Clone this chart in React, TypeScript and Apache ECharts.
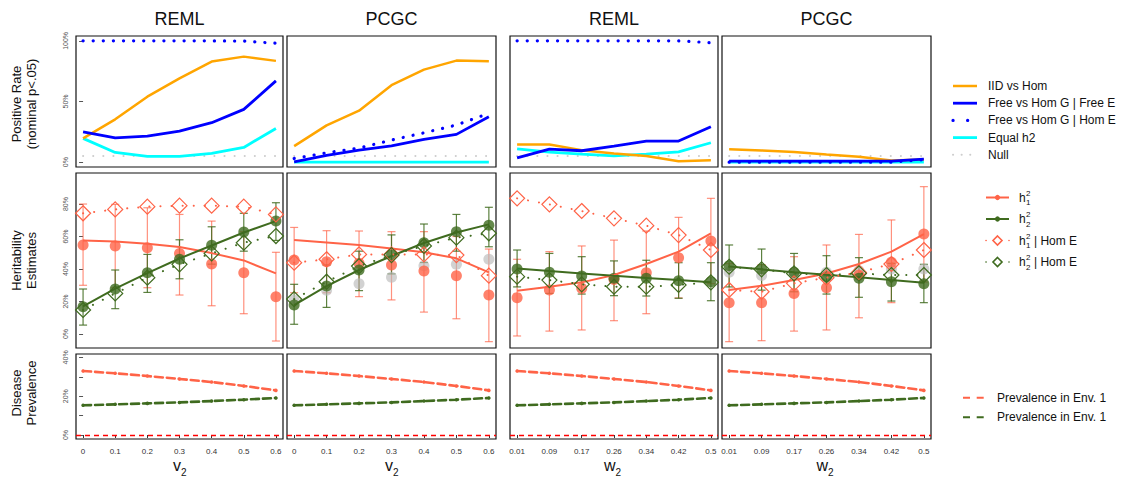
import React, { useEffect, useRef } from "react";
import * as echarts from "echarts";

// ---------- data ----------
const xIndex = [0, 1, 2, 3, 4, 5, 6];
const vLabels = ["0", "0.1", "0.2", "0.3", "0.4", "0.5", "0.6"];
const wLabels = ["0.01", "0.09", "0.17", "0.26", "0.34", "0.42", "0.5"];
const methods = ["REML", "PCGC", "REML", "PCGC"];
const axisVars = ["v", "v", "w", "w"];

// Positive rate (%) per panel [REML v2, PCGC v2, REML w2, PCGC w2]
const iidVsHom = [
  [19.6, 35.3, 54, 69, 82.9, 87, 83.5],
  [13.2, 30.3, 42.4, 63.4, 76.3, 83.7, 83.2],
  [14.6, 14.6, 9.9, 7.2, 5, 0.8, 1.6],
  [10.7, 9.6, 8.3, 6.3, 4.4, 1.4, 2.2],
];
const freeVsHomFreeE = [
  [25, 20, 21.5, 25.6, 32.5, 43.5, 67],
  [0.3, 5.5, 9.9, 13.5, 18.7, 22.9, 37.5],
  [3.6, 10.7, 9.4, 13.2, 17.4, 17.4, 29.2],
  [0.8, 0.8, 0.8, 0.8, 0.8, 0.8, 2.5],
];
const freeVsHomHomE = [
  [100, 100, 100, 100, 100, 99.8, 98],
  [3, 7.7, 11.6, 18.2, 24.2, 30.6, 40.2],
  [100, 100, 100, 100, 100, 100, 98.5],
  [0, 0, 0, 0, 0, 0, 2],
];
const equalH2 = [
  [19.6, 8, 4.7, 4.7, 7.2, 12.1, 27.8],
  [0, 0, 0, 0, 0, 0, 0],
  [11, 8.3, 6.6, 5.2, 6.6, 8.5, 16],
  [0, 0, 0, 0, 0, 0, 0],
];
const nullRate = [5, 5, 5, 5, 5, 5, 5];

// Heritability estimates (%)
const h1Est = [
  [54.8, 54.2, 53.1, 49.6, 43.1, 37.7, 23],
  [45.5, 44.5, 43.5, 42.5, 38.8, 35.9, 24],
  [22.4, 27.1, 28.1, 33.6, 37.7, 47, 57.2],
  [19.3, 19.3, 25, 28.5, 36.3, 44.1, 61.5],
];
const h1Low = [
  [30, 28.6, 28.5, 24, 17.4, 12.5, -4.3],
  [25.4, 25.4, 23, 21, 13.5, 9.4, -4.7],
  [-1.2, 1.8, 2.5, 8.2, 12.5, 22.2, 31],
  [-4.7, -4.1, 1.8, 2.5, 10, 19.3, 32],
];
const h1High = [
  [80, 79.8, 77.7, 73.6, 69.5, 63, 50.3],
  [65.6, 63.6, 63.4, 63, 63, 60, 52.3],
  [46, 50.7, 54.2, 57.8, 63.4, 71.8, 83.5],
  [43.3, 42.7, 47.6, 54.8, 61.3, 70.2, 90.7],
];
const h1True = [
  [57.6, 57, 55.6, 53.5, 49.8, 45.3, 37.3],
  [57.8, 56.4, 54.8, 52.7, 50.3, 46.6, 37.9],
  [26.7, 29.1, 31.8, 36.3, 43.1, 50.7, 62],
  [27.1, 29.7, 33.2, 37.3, 43.1, 50.7, 61.5],
];
const h2Est = [
  [16.8, 27.7, 37.7, 46, 54.6, 62.8, 69.5],
  [17.8, 29.5, 39.4, 48.6, 56.2, 63, 67],
  [40, 38, 35.7, 34.3, 34.3, 32.8, 32.2],
  [42, 40, 38, 35.3, 34.3, 32.2, 31],
];
const h2Low = [
  [5.5, 15.6, 25.6, 34, 43, 51, 57.6],
  [6, 16.4, 26.7, 37, 44, 51, 53.7],
  [29, 25, 24.6, 23.6, 23.4, 22, 20.5],
  [29, 27, 26, 24.6, 22.6, 20.3, 19.3],
];
const h2High = [
  [27.7, 39.4, 49, 58, 66, 74.3, 80.8],
  [30.6, 42.5, 51, 61, 67.7, 73.6, 78],
  [51.7, 49.6, 47.6, 45, 45.4, 43.9, 43.9],
  [54.8, 52.3, 49.6, 48.2, 47, 43.5, 42.9],
];
const h2True = [
  [17, 28, 37.5, 46.5, 54.5, 62.5, 69.5],
  [17.8, 29.5, 39.4, 48, 56, 62.5, 67.5],
  [40.4, 38.8, 37.3, 35.8, 34.5, 33.2, 31.8],
  [41.5, 39.8, 38, 36.5, 35, 33.2, 31.5],
];
const h1HomE = [
  [74.3, 76.7, 78.4, 79, 79, 78.4, 73.6],
  [43.9, 46, 49, 49, 49, 48.6, 35.9],
  [83.5, 79.8, 75.7, 71.2, 66.7, 60.9, 51.7],
  [27.1, 26, 31.2, 34.7, 37.9, 43.1, 51.7],
];
const h2HomE = [
  [14.8, 25, 34.7, 42.9, 49.6, 56.2, 60.3],
  [21.5, 32.2, 41.8, 48.6, 54.2, 59.3, 62],
  [35.3, 33.2, 30.6, 29.1, 29.1, 30.2, 31.8],
  [41.4, 39.8, 37.3, 36.3, 37.3, 36.3, 36.3],
];
const grayEst = [
  null,
  [21, 27, 31, 35, 42, 43, 46],
  null,
  [38, 36, 37, 38, 39, 40, 40],
];

// Disease prevalence (%)
const prevEnv1 = [33, 31.8, 30.4, 28.9, 27.3, 25.3, 23];
const prevEnv2 = [15.3, 15.8, 16.3, 16.8, 17.5, 18.2, 19.1];

const rateLegend = ["IID vs Hom", "Free vs Hom G | Free E", "Free vs Hom G | Hom E", "Equal h2", "Null"];
const rowTitles = [["Positive Rate", "(nominal p<.05)"], ["Heritability", "Estimates"], ["Disease", "Prevalence"]];

// ---------- styling / layout ----------
const ORANGE = "#FFA500";
const BLUE = "#0000FF";
const CYAN = "#00FFFF";
const NULLC = "#CDCDCD";
const CORAL = "#FF6347";
const CORAL_BAR = "rgba(255,99,71,0.7)";
const GREEN = "#3F6B1F";
const GREEN_BAR = "rgba(63,107,31,0.85)";
const GRAY = "rgba(185,185,185,0.8)";
const FONT = "'Liberation Sans', Arial, Helvetica, sans-serif";

const COLS = [[76, 283], [287, 496], [510, 718], [722, 931]];
const ROWS = [[36, 167], [173, 348], [354, 439]];
const Y_MIN = [-4, -8.6, -2.06];
const Y_MAX = [104, 99.1, 41.75];
const Y_TICKS = [[0, 50, 100], [0, 20, 40, 60, 80], [0, 10, 20, 30, 40]];
const Y_LABELS = [[0, 50, 100], [0, 20, 40, 60, 80], [0, 20, 40]];

const gi = (r: number, c: number) => r * 4 + c;
const pts = (arr: number[]) => xIndex.map((x, i) => [x, arr[i]]);
const bars = (lo: number[], hi: number[]) => xIndex.map((x, i) => [x, lo[i], hi[i]]);
const DOT = [0.1, 10];

function lineSeries(r: number, c: number, name: string, arr: number[], color: string, width: number, type: any = "solid", extra: any = {}) {
  return {
    type: "line",
    name,
    xAxisIndex: gi(r, c),
    yAxisIndex: gi(r, c),
    data: pts(arr),
    symbol: "none",
    silent: true,
    lineStyle: { color, width, type, cap: type === "solid" ? "butt" : "round" },
    itemStyle: { color },
    ...extra,
  };
}

function errorBars(r: number, c: number, name: string, lo: number[], hi: number[], color: string) {
  return {
    type: "custom",
    name,
    xAxisIndex: gi(r, c),
    yAxisIndex: gi(r, c),
    silent: true,
    data: bars(lo, hi),
    encode: { x: 0, y: [1, 2] },
    renderItem: (params: any, api: any) => {
      const x = api.value(0);
      const top = api.coord([x, api.value(2)]);
      const bot = api.coord([x, api.value(1)]);
      const w = 4;
      const style = { stroke: color, lineWidth: 1.2 };
      return {
        type: "group",
        children: [
          { type: "line", shape: { x1: top[0], y1: top[1], x2: bot[0], y2: bot[1] }, style },
          { type: "line", shape: { x1: top[0] - w, y1: top[1], x2: top[0] + w, y2: top[1] }, style },
          { type: "line", shape: { x1: bot[0] - w, y1: bot[1], x2: bot[0] + w, y2: bot[1] }, style },
        ],
      };
    },
  };
}

function scatterSeries(r: number, c: number, name: string, arr: number[], color: string, size: number) {
  return {
    type: "scatter",
    name,
    xAxisIndex: gi(r, c),
    yAxisIndex: gi(r, c),
    data: pts(arr),
    symbol: "circle",
    symbolSize: size,
    silent: true,
    itemStyle: { color },
  };
}

function buildOption() {
  const grid: any[] = [];
  const xAxis: any[] = [];
  const yAxis: any[] = [];
  const series: any[] = [];

  for (let r = 0; r < 3; r++) {
    for (let c = 0; c < 4; c++) {
      grid.push({
        left: COLS[c][0],
        top: ROWS[r][0],
        width: COLS[c][1] - COLS[c][0],
        height: ROWS[r][1] - ROWS[r][0],
        show: true,
        borderColor: "#111",
        borderWidth: 1.2,
        backgroundColor: "transparent",
      });
      const labels = c < 2 ? vLabels : wLabels;
      const bottom = r === 2;
      xAxis.push({
        type: "value",
        gridIndex: gi(r, c),
        min: -0.22,
        max: 6.22,
        offset: 2,
        axisLine: { show: false },
        splitLine: { show: false },
        axisTick: { show: bottom, customValues: xIndex, length: 3, lineStyle: { color: "#333" } },
        axisLabel: {
          show: bottom,
          customValues: xIndex,
          formatter: (v: number) => labels[Math.round(v)],
          fontSize: 8,
          color: "#333",
          margin: 6,
          fontFamily: FONT,
        },
      });
      const left = c === 0;
      yAxis.push({
        type: "value",
        gridIndex: gi(r, c),
        min: Y_MIN[r],
        max: Y_MAX[r],
        offset: 2,
        axisLine: { show: false },
        splitLine: { show: false },
        axisTick: { show: left, customValues: Y_TICKS[r], length: 4, lineStyle: { color: "#555" } },
        axisLabel: {
          show: left,
          customValues: Y_LABELS[r],
          formatter: (v: number) => v + "%",
          rotate: 90,
          fontSize: 7,
          color: "#555",
          margin: 5,
          fontFamily: FONT,
        },
      });
    }
  }

  for (let c = 0; c < 4; c++) {
    // Row 1: positive rates
    series.push(lineSeries(0, c, "Null", nullRate, NULLC, 2, DOT));
    series.push(lineSeries(0, c, "Equal h2", equalH2[c], CYAN, 2.8));
    series.push(lineSeries(0, c, "IID vs Hom", iidVsHom[c], ORANGE, 2.5));
    series.push(lineSeries(0, c, "Free vs Hom G | Free E", freeVsHomFreeE[c], BLUE, 2.8));
    series.push(lineSeries(0, c, "Free vs Hom G | Hom E", freeVsHomHomE[c], BLUE, 3.2, DOT));

    // Row 2: heritability
    const g = grayEst[c];
    if (g) series.push(scatterSeries(1, c, "gray", g, GRAY, 11));
    series.push(errorBars(1, c, "h1 CI", h1Low[c], h1High[c], CORAL_BAR));
    series.push(errorBars(1, c, "h2 CI", h2Low[c], h2High[c], GREEN_BAR));
    series.push(lineSeries(1, c, "h1 true", h1True[c], CORAL, 2));
    series.push(lineSeries(1, c, "h2 true", h2True[c], GREEN, 2));
    series.push(scatterSeries(1, c, "h1", h1Est[c], CORAL, 11));
    series.push(scatterSeries(1, c, "h2", h2Est[c], GREEN, 11));
    series.push(
      lineSeries(1, c, "h1 | Hom E", h1HomE[c], CORAL, 2, [0.1, 11], {
        symbol: "diamond",
        symbolSize: 15,
        itemStyle: { color: "rgba(0,0,0,0)", borderColor: CORAL, borderWidth: 1.2 },
      })
    );
    series.push(
      lineSeries(1, c, "h2 | Hom E", h2HomE[c], GREEN, 2, [0.1, 11], {
        symbol: "diamond",
        symbolSize: 15,
        itemStyle: { color: "rgba(0,0,0,0)", borderColor: GREEN, borderWidth: 1.2 },
      })
    );

    // Row 3: prevalence
    series.push(
      lineSeries(2, c, "Prevalence in Env. 1", prevEnv1, CORAL, 2.6, [8, 4], {
        symbol: "circle",
        symbolSize: 3.5,
        showSymbol: true,
        markLine: {
          silent: true,
          symbol: "none",
          label: { show: false },
          lineStyle: { color: "#FF0000", type: [5, 4], width: 1.3 },
          data: [{ yAxis: 0 }],
        },
      })
    );
    series.push(
      lineSeries(2, c, "Prevalence in Env. 2", prevEnv2, GREEN, 2.6, [8, 4], {
        symbol: "circle",
        symbolSize: 3.5,
        showSymbol: true,
      })
    );
  }

  // ---------- graphic: titles, axis names, legends ----------
  const graphic: any[] = [];
  const txt = (text: string, x: number, y: number, size: number, align = "left", color = "#111", extra: any = {}) => ({
    type: "text",
    x,
    y,
    silent: true,
    style: { text, fontSize: size, fontFamily: FONT, fill: color, textAlign: align, textVerticalAlign: "middle" },
    ...extra,
  });

  COLS.forEach((col, c) => {
    const cx = (col[0] + col[1]) / 2;
    graphic.push(txt(methods[c], cx, 19, 18, "center"));
    graphic.push(txt(axisVars[c], cx + 1.5, 465.5, 16, "right"));
    graphic.push(txt("2", cx + 1.5, 472, 10, "left"));
  });

  const rowCenters = [104, 260.5, 393];
  rowTitles.forEach((lines, r) => {
    graphic.push({
      type: "text",
      x: 23.5,
      y: rowCenters[r],
      rotation: Math.PI / 2,
      silent: true,
      style: {
        text: lines.join("\n"),
        fontSize: 13,
        lineHeight: 15,
        fontFamily: FONT,
        fill: "#111",
        textAlign: "center",
        textVerticalAlign: "middle",
      },
    });
  });

  // Legend 1
  const leg1 = [
    { color: ORANGE, w: 2.5, dash: null },
    { color: BLUE, w: 2.8, dash: null },
    { color: BLUE, w: 3.2, dash: [0.1, 14.5] },
    { color: CYAN, w: 2.8, dash: null },
    { color: NULLC, w: 2, dash: [0.1, 8.5] },
  ];
  leg1.forEach((it, i) => {
    const y = 86 + i * 17.2;
    graphic.push({
      type: "line",
      silent: true,
      shape: { x1: 953, y1: y, x2: 977, y2: y },
      style: { stroke: it.color, lineWidth: it.w, lineDash: it.dash || undefined, lineCap: it.dash ? "round" : "butt" },
    });
    graphic.push(txt(rateLegend[i], 988, y, 12));
  });

  // Legend 2
  const leg2 = [
    { color: CORAL, sub: "1", homE: false },
    { color: GREEN, sub: "2", homE: false },
    { color: CORAL, sub: "1", homE: true },
    { color: GREEN, sub: "2", homE: true },
  ];
  leg2.forEach((it, i) => {
    const y = 197.5 + i * 21.5;
    const cx = 997.5;
    if (!it.homE) {
      graphic.push({ type: "line", silent: true, shape: { x1: 986, y1: y, x2: 1009, y2: y }, style: { stroke: it.color, lineWidth: 2 } });
      graphic.push({ type: "circle", silent: true, shape: { cx, cy: y, r: 2.6 }, style: { fill: it.color } });
    } else {
      graphic.push({
        type: "line",
        silent: true,
        shape: { x1: 986, y1: y, x2: 1009, y2: y },
        style: { stroke: it.color, lineWidth: 1.6, lineDash: [0.1, 22.9], lineCap: "round" },
      });
      graphic.push({
        type: "polygon",
        silent: true,
        shape: { points: [[cx, y - 4.5], [cx + 4.5, y], [cx, y + 4.5], [cx - 4.5, y]] },
        style: { fill: "none", stroke: it.color, lineWidth: 1.6 },
      });
    }
    graphic.push(txt("h", 1019, y, 12));
    graphic.push(txt("2", 1026, y - 4.5, 8));
    graphic.push(txt(it.sub, 1026, y + 5, 8));
    if (it.homE) graphic.push(txt("| Hom E", 1034, y, 12));
  });

  // Legend 3
  [CORAL, GREEN].forEach((color, i) => {
    const y = 397.7 + i * 19.6;
    graphic.push({
      type: "line",
      silent: true,
      shape: { x1: 963, y1: y, x2: 984, y2: y },
      style: { stroke: color, lineWidth: 2, lineDash: [7, 6.7] },
    });
    graphic.push(txt("Prevalence in Env. 1", 997, y, 12));
  });

  return {
    animation: false,
    backgroundColor: "#fff",
    textStyle: { fontFamily: FONT },
    grid,
    xAxis,
    yAxis,
    series,
    graphic,
  };
}

export default function App() {
  const ref = useRef<HTMLDivElement>(null);
  useEffect(() => {
    document.body.style.margin = "0";
    if (!ref.current) return;
    const chart = echarts.init(ref.current, null, { renderer: "svg" });
    chart.setOption(buildOption() as any);
    return () => chart.dispose();
  }, []);
  return <div ref={ref} style={{ width: 1122, height: 477 }} />;
}
